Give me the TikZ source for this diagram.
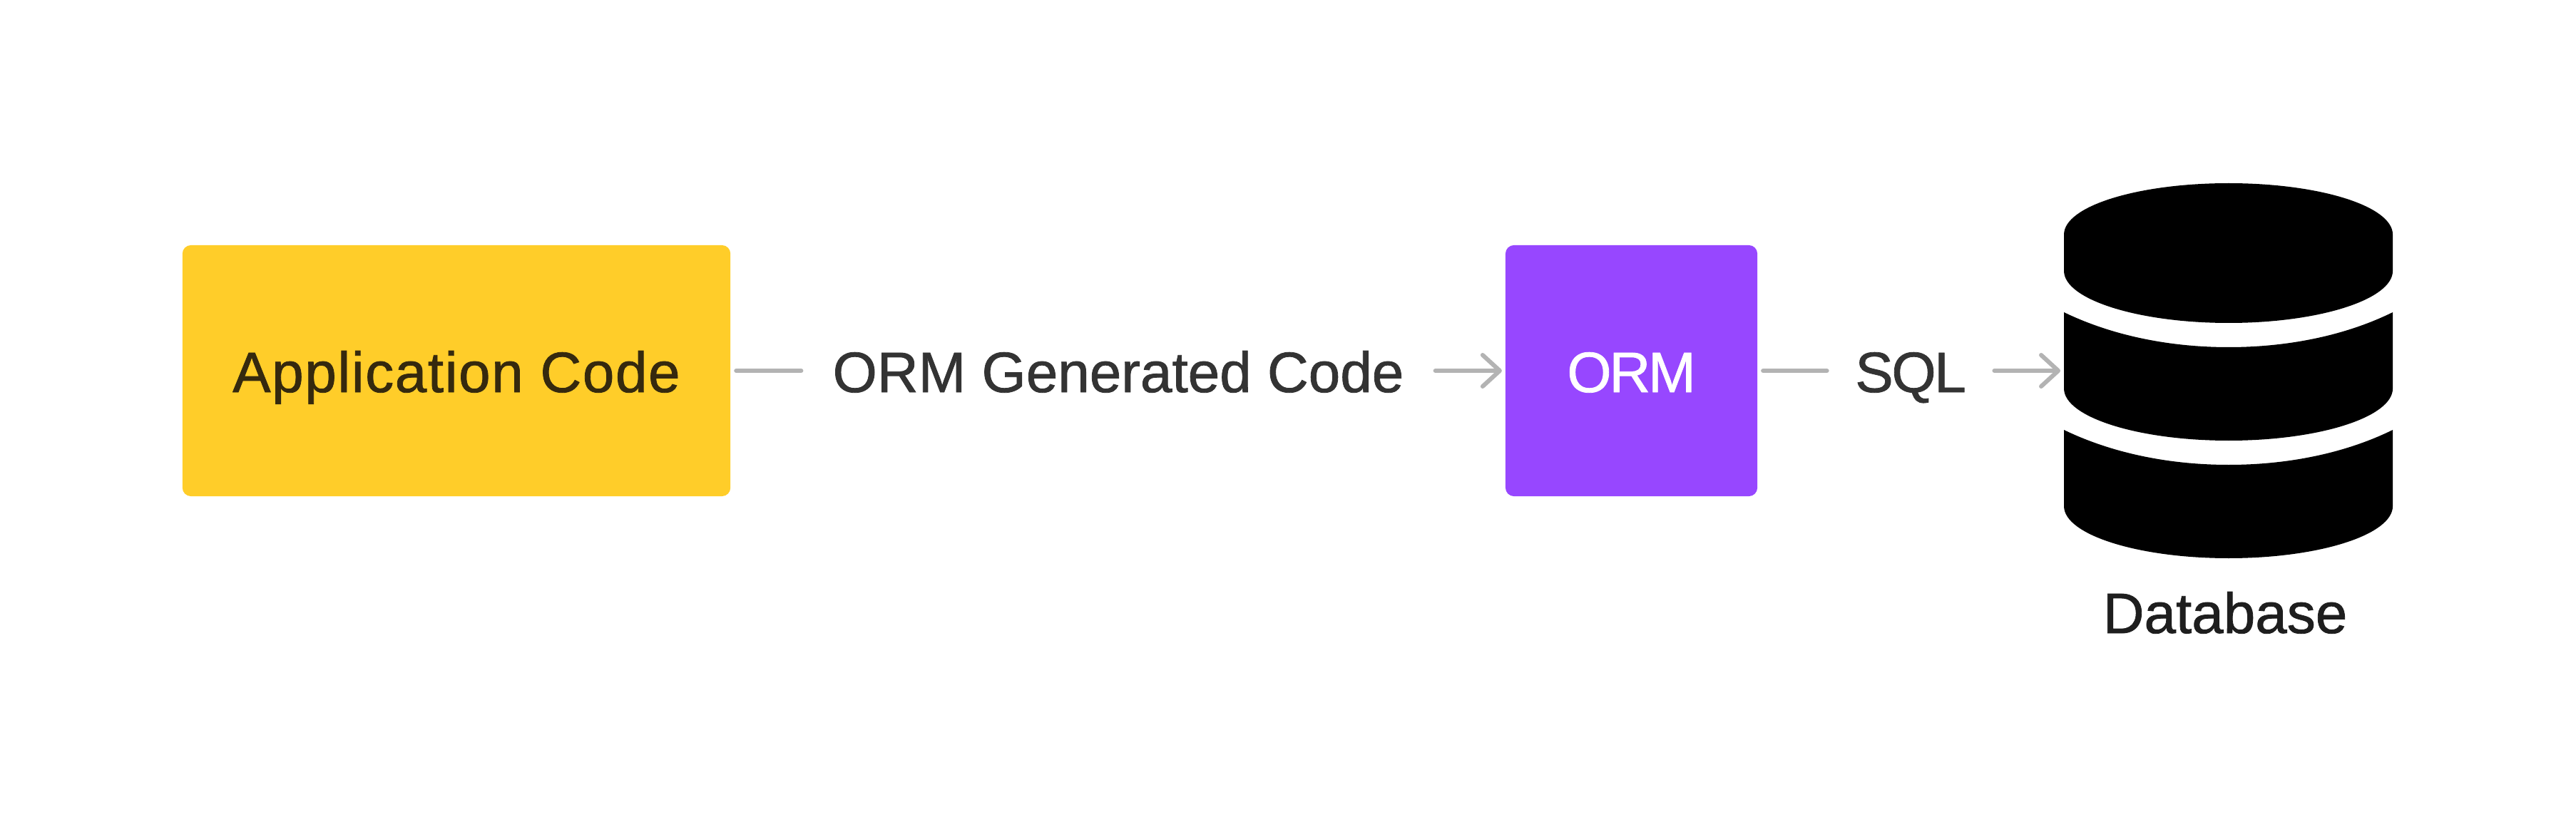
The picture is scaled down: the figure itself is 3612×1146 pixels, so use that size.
\documentclass[tikz,border=0pt]{standalone}
\usepackage{fontspec}
\setmainfont{Liberation Sans}[FakeBold=1]
\usetikzlibrary{arrows.meta}
\definecolor{appyellow}{HTML}{FFCD29}
\definecolor{ormpurple}{HTML}{9747FF}
\definecolor{linegray}{HTML}{B3B3B3}
\definecolor{textgray}{HTML}{333333}
\definecolor{apptext}{HTML}{35290E}
\definecolor{dbtext}{HTML}{1E1E1E}
\tikzset{
  lbl/.style={font=\fontsize{22.76pt}{27pt}\selectfont,text height=0.60cm,text depth=0pt,
    inner ysep=0pt,inner xsep=0.435cm,text=textgray},
  boxnode/.style={lbl,rounded corners=0.12cm,minimum height=3.52cm,inner sep=0pt,outer sep=0.08cm},
  link/.style={draw=linegray,line width=0.06cm,line cap=round},
  flow/.style={link,shorten >=-0.03cm,-{Straight Barb[length=0.24cm,width=0.44cm,round]}},
}
\begin{document}
\begin{tikzpicture}[x=0.01cm,y=-0.01cm]
      \useasboundingbox (0,0) rectangle (3612,1146);
      \node[boxnode,fill=appyellow,minimum width=7.68cm,text=apptext] (app) at (640,520) {\addfontfeature{LetterSpace=2}Application Code};
      \node[lbl] (gencode) at (1568,520) {ORM Generated Code};
      \node[boxnode,fill=ormpurple,minimum width=3.53cm,text=white] (orm) at (2287.5,520) {\addfontfeature{LetterSpace=-4}ORM};
      \node[lbl,inner xsep=0.39cm] (sql) at (2679,520) {\addfontfeature{LetterSpace=-3}SQL};
      \coordinate (dbin) at (2886,520);
      \node[lbl,text=dbtext] (dblabel) at (3120,858) {Database};
      \fill (2894,329) .. controls (2894,289) and (2998,257) .. (3125,257)
        .. controls (3252,257) and (3355,289) .. (3355,329) -- (3355,380)
        .. controls (3355,420) and (3252,453) .. (3125,453)
        .. controls (2998,453) and (2894,420) .. (2894,380) -- cycle;
      \foreach \dy in {0,165} {
        \fill[yshift=-\dy*0.01cm] (2894,438) .. controls (2960,470) and (3040,487) .. (3125,487)
          .. controls (3210,487) and (3290,470) .. (3355,438) -- (3355,545)
          .. controls (3355,585) and (3252,618) .. (3125,618)
          .. controls (2998,618) and (2894,585) .. (2894,545) -- cycle;
      }
      \draw[link] (app) -- (gencode);
      \draw[flow] (gencode) -- (orm);
      \draw[link] (orm) -- (sql);
      \draw[flow] (sql) -- (dbin);
    \end{tikzpicture}
\end{document}
